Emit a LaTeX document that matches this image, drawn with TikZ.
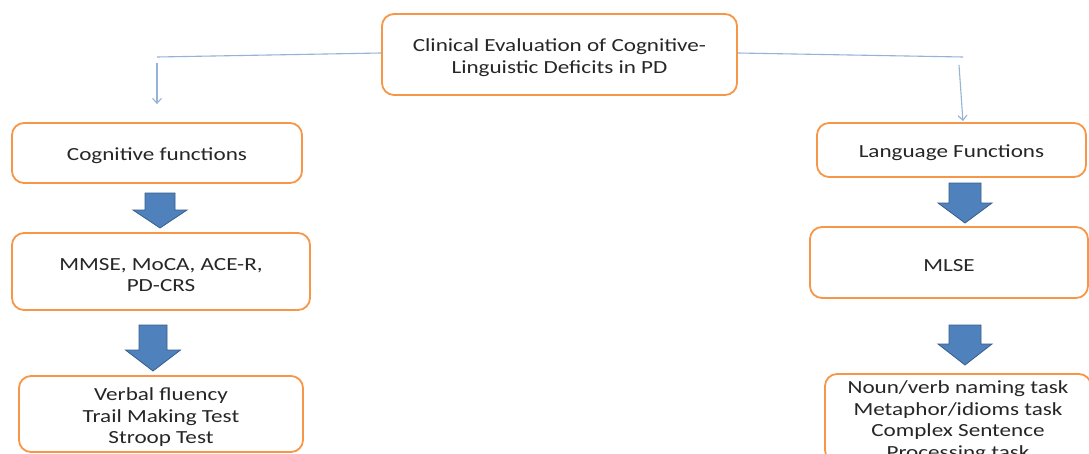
\documentclass[tikz,border=0pt]{standalone}
\usepackage{fontspec}
\setmainfont{Carlito}[FakeStretch=1.25]
\usetikzlibrary{arrows.meta,calc}
\definecolor{boxline}{HTML}{F79646}
\definecolor{linkblue}{HTML}{95B3D7}
\definecolor{blkfill}{HTML}{4F81BD}
\definecolor{blkline}{HTML}{385D8A}
% tall strut for the first text line, nudging the text block slightly downwards
\newcommand\lift{\rule{0pt}{19pt}}
\tikzset{
  box/.style={draw=boxline, line width=1.8pt, rounded corners=12pt, fill=white,
    align=center, inner sep=0pt, text=black!85,
    font=\fontsize{18.5}{21.5}\selectfont},
  link/.style={draw=linkblue, line width=1.1pt},
  linkarrow/.style={link, -{Straight Barb[length=5pt,width=9pt]}},
  blk/.style={fill=blkfill, draw=blkline, line width=0.8pt},
}
% downward block arrow: centre x, top y, head start y, tip y, shaft half width, head half width
\newcommand\downblock[6]{%
  \draw[blk] ({#1-#5},#2) -- ({#1+#5},#2) -- ({#1+#5},#3) -- ({#1+#6},#3)
    -- (#1,#4) -- ({#1-#6},#3) -- ({#1-#5},#3) -- cycle;}
\begin{document}
\begin{tikzpicture}[x=1pt,y=-1pt]
  \useasboundingbox (0,0) rectangle (1089,453);
  \clip (0,0) rectangle (1089,453);
  \fill[white] (0,0) rectangle (1089,453);

  % boxes
  \node[box, minimum width=355pt, minimum height=81pt] (top) at (559.5,54.5)
    {\lift Clinical Evaluation of Cognitive-\\Linguistic Deficits in PD};
  \node[box, minimum width=290pt, minimum height=60pt] (cog) at (157,153)
    {\lift Cognitive functions};
  \node[box, minimum width=298pt, minimum height=77pt] (mmse) at (161,271.5)
    {\lift MMSE, MoCA, ACE-R,\\PD-CRS};
  \node[box, minimum width=284pt, minimum height=76pt] (verbal) at (161,414)
    {\lift Verbal fluency\\Trail Making Test\\Stroop Test};
  \node[box, minimum width=269pt, minimum height=54pt] (lang) at (951.5,150)
    {\lift Language Functions};
  \node[box, minimum width=278pt, minimum height=71pt] (mlse) at (949,262.5)
    {\lift MLSE};
  \node[box, minimum width=266pt, minimum height=88pt] (noun) at (958,418)
    {\lift Noun/verb naming task\\Metaphor/idioms task\\Complex Sentence\\Processing task};

  % thin connectors from the title box
  \coordinate (lA) at (157,57);
  \coordinate (lB) at (157,63);
  \coordinate (rA) at (963,57);
  \coordinate (rB) at (959,65);
  \draw[link] ($(top.west)+(0,-1.5)$) -- (lA);
  \draw[linkarrow, shorten >=18pt] (lB) -- (cog.north);
  \draw[link] ($(top.east)+(0,-1.5)$) -- (rA);
  \draw[linkarrow, shorten >=1pt] (rB) -- ($(lang.north)+(11.5,0)$);

  % block arrows
  \downblock{160}{193}{210}{228}{15}{27}
  \downblock{153}{325}{350}{371}{14}{27.5}
  \downblock{965}{183}{203}{223}{16}{27}
  \downblock{965}{325}{344}{365}{16}{27}
\end{tikzpicture}
\end{document}
